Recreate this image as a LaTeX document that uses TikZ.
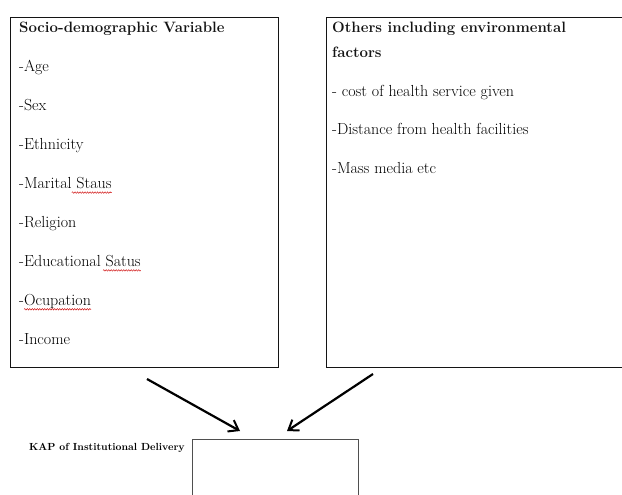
\documentclass[tikz,border=0pt]{standalone}
\usetikzlibrary{positioning,arrows.meta,calc,decorations.pathmorphing}
\definecolor{ink}{RGB}{20,20,20}

\tikzset{
  panel/.style={draw=ink,line width=0.9pt,anchor=north west,inner sep=0pt},
  head/.style={anchor=base west,inner sep=0pt,text=ink,font=\fontsize{15}{18}\selectfont\bfseries},
  item/.style={anchor=base west,inner sep=0pt,text=black,font=\fontsize{16}{19}\selectfont},
  flow/.style={line width=2.2pt,-{Straight Barb[length=9pt,width=13pt,line width=2pt]}},
  typo/.style={red!80!black,line width=0.4pt,decorate,decoration={snake,amplitude=0.8pt,segment length=2.5pt}}
}

\begin{document}
\begin{tikzpicture}[x=1pt,y=-1pt]
\useasboundingbox (0,0) rectangle (622,495);
% Socio-demographic box
\node[panel,minimum width=268pt,minimum height=350pt] (socio) at (10,17) {};
\node[head] (sochead) at (19,33) {Socio-demographic Variable};
\foreach \t [count=\i] in {Age,Sex,Ethnicity,Marital Staus,Religion,Educational Satus,Ocupation,Income}
  \node[item] (soc\i) at (19,33+38.9*\i) {-\t};
% spell check marks
\draw[typo] ($(soc4.base east)+(-40,4)$) -- ($(soc4.base east)+(0,4)$);
\draw[typo] ($(soc6.base east)+(-38,4)$) -- ($(soc6.base east)+(0,4)$);
\draw[typo] ($(soc7.base west)+(5,4)$) -- ($(soc7.base east)+(0,4)$);
% Others box
\node[panel,minimum width=300pt,minimum height=350pt] (other) at (326,17) {};
\node[head] (othhead) at (332,33) {Others including environmental};
\node[head] (othhead2) at (332,58) {factors};
\node[item] (oth1) at (332,97) {- cost of health service given};
\node[item] (oth2) at (332,135) {-Distance from health facilities};
\node[item] (oth3) at (332,173) {-Mass media etc};
% KAP box
\node[panel,draw=ink!75,minimum width=166pt,minimum height=80pt] (kap) at (192,439) {};
\node[anchor=base west,inner sep=0pt,font=\fontsize{10.3}{12}\selectfont\bfseries] (kaplabel) at (29,450) {KAP of Institutional Delivery};
% Arrows
\coordinate (s1) at (147,379);
\coordinate (s2) at (240,431);
\coordinate (o1) at (373,374);
\coordinate (o2) at (287,431);
\draw[flow] (s1) -- (s2);
\draw[flow] (o1) -- (o2);
\end{tikzpicture}
\end{document}
